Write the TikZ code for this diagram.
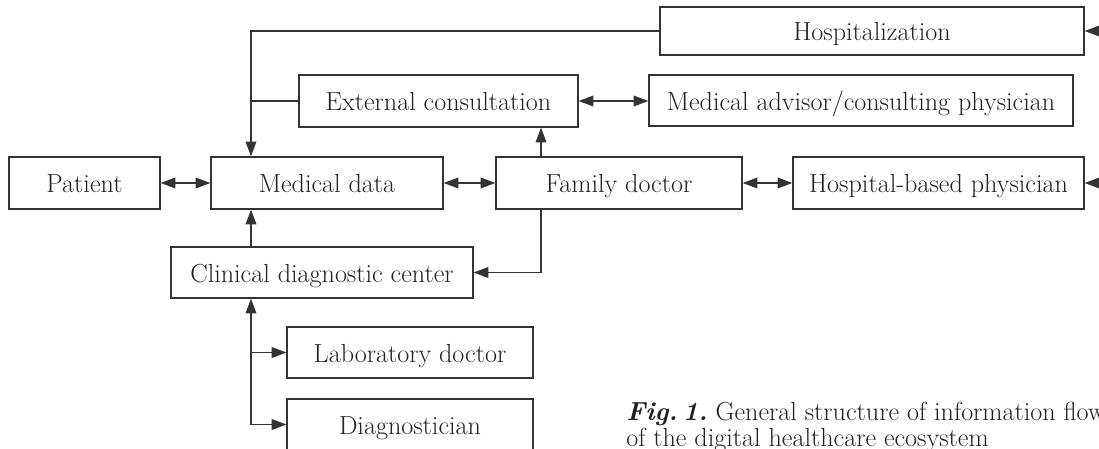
\documentclass[tikz,border=0pt]{standalone}
\usetikzlibrary{arrows.meta}
\definecolor{ink}{HTML}{231F20}
\definecolor{edge}{HTML}{333333}
\begin{document}
\begin{tikzpicture}[x=0.75pt,y=-0.75pt,
  every node/.style={text=ink},
  box/.style={draw=edge, line width=1pt, inner sep=0pt, align=center,
    text height=15pt, text depth=0pt,
    font=\fontsize{19.6}{23}\selectfont},
  link/.style={draw=edge, line width=1pt},
  >={Triangle[length=11pt,width=8pt]},
  captxt/.style={anchor=base west, inner sep=0pt, font=\fontsize{19.6}{23}\selectfont}]
\useasboundingbox (0,0) rectangle (1099,449);
% boxes
\node[box, minimum width=318pt, minimum height=36pt] (hosp) at (872,31) {Hospitalization};
\node[box, minimum width=209.25pt, minimum height=39pt] (ext) at (438.5,101) {External consultation};
\node[box, minimum width=318pt, minimum height=38.25pt] (adv) at (861,100.5) {Medical advisor/consulting physician};
\node[box, minimum width=113.25pt, minimum height=39pt] (pat) at (84.5,183) {Patient};
\node[box, minimum width=174pt, minimum height=39pt] (med) at (327,183) {Medical data};
\node[box, minimum width=184.5pt, minimum height=39pt] (fam) at (619,183) {Family doctor};
\node[box, minimum width=218.25pt, minimum height=39pt] (hbp) at (938.5,183) {Hospital-based physician};
\node[box, minimum width=226.5pt, minimum height=38.25pt] (cdc) at (322,272.5) {Clinical diagnostic center};
\node[box, minimum width=184.5pt, minimum height=38.25pt] (lab) at (410,352.5) {Laboratory doctor};
\node[box, minimum width=184.5pt, minimum height=38.25pt] (dia) at (410,424.5) {Diagnostician};
% caption
\node[captxt] (cap1) at (626,420) {{\bfseries\itshape Fig.\kern0.2em1.}\ General structure of information flow};
\node[captxt] (cap2) at (626,446) {of the digital healthcare ecosystem};
% helper coordinates
\coordinate (jx) at (251,31);
\coordinate (fx) at (541,183);
\coordinate (offh) at (1120,31);
\coordinate (offp) at (1120,183);
% connectors
\draw[link,->] (hosp.west) -- (jx) -- (jx |- med.north);
\draw[link] (ext.west) -- (ext.west -| jx);
\draw[link,<->] (ext.east) -- (ext.east -| adv.west);
\draw[link,<->] (pat) -- (med);
\draw[link,<->] (med) -- (fam);
\draw[link,<->] (fam) -- (hbp);
\draw[link,->] (fx |- fam.north) -- (fx |- ext.south);
\draw[link,->] (fx |- fam.south) -- (fx |- cdc.east) -- (cdc.east);
\draw[link,->] (offh) -- (hosp.east);
\draw[link,->] (offp) -- (hbp.east);
\draw[link,->] (jx |- cdc.north) -- (jx |- med.south);
\draw[link,->] (jx |- dia.west) -- (jx |- cdc.south);
\draw[link,->] (jx |- lab.west) -- (lab.west);
\draw[link,->] (jx |- dia.west) -- (dia.west);
\end{tikzpicture}
\end{document}
